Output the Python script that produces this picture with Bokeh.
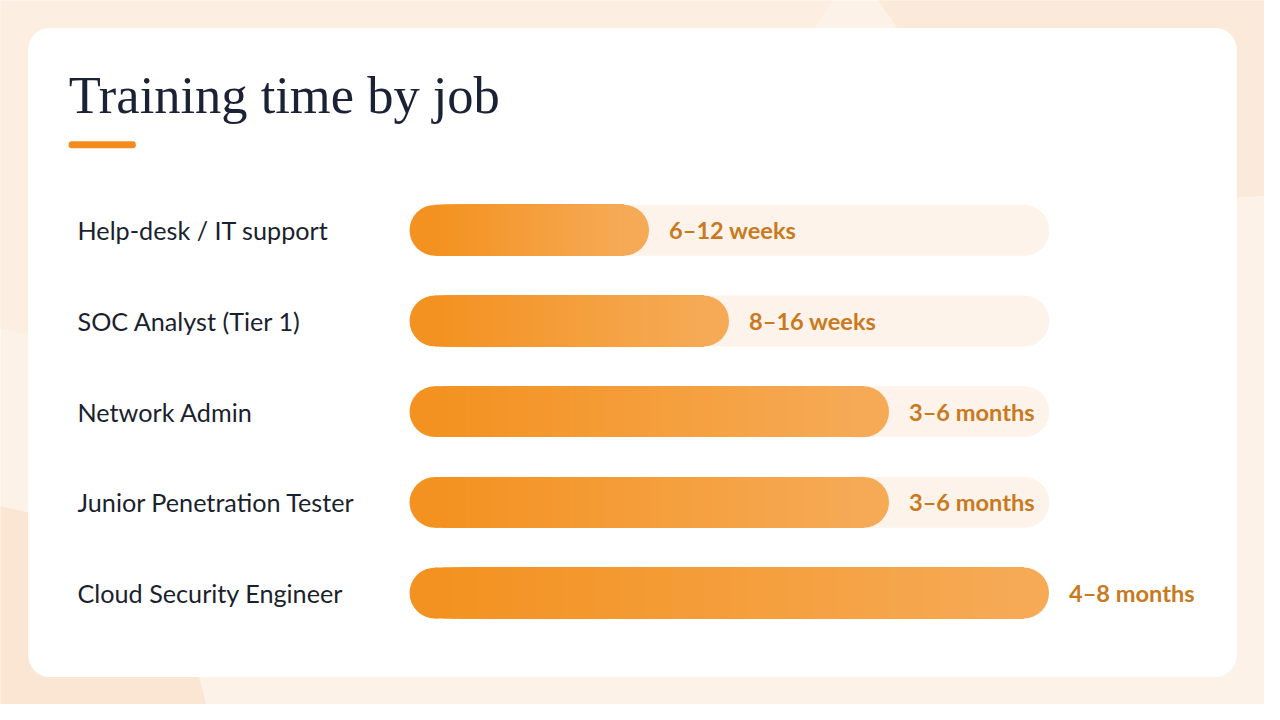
from bokeh.plotting import figure
from bokeh.models import Range1d
from bokeh.core.properties import value
from bokeh.embed import file_html
from bokeh.resources import INLINE

# ---- data ----
jobs = ["Help-desk / IT support", "SOC Analyst (Tier 1)", "Network Admin",
        "Junior Penetration Tester", "Cloud Security Engineer"]
range_labels = ["6\u201312 weeks", "8\u201316 weeks", "3\u20136 months", "3\u20136 months", "4\u20138 months"]
upper_months = [3, 4, 6, 6, 8]
max_months = 8
title_text = "Training time by job"

# ---- style ----
BG = "#FDF2E8"
CARD = "#FFFFFF"
TRACK = "#FDF3EA"
C0 = (243, 146, 32)
C1 = (246, 170, 86)
VAL_COL = "#C97A20"
LABEL_COL = "#1B1F2E"
TITLE_COL = "#1B2236"

# reference frame 1280x720 drawn into the 1264x704 canvas
RW, RH = 1280, 720
W, H = 1264, 704
sy = H / RH
p = figure(width=W, height=H, output_backend="svg", toolbar_location=None,
           x_range=Range1d(0, RW), y_range=Range1d(RH, 0),
           min_border=0, outline_line_color=None)
p.background_fill_color = BG
p.border_fill_color = BG
p.xaxis.visible = False
p.yaxis.visible = False
p.grid.visible = False

# value scale: 0 months -> ref px 414, 8 months -> ref px 1062
px0, px1 = 414, 1062
ppm = (px1 - px0) / max_months
p.extra_x_ranges = {"m": Range1d((0 - px0) / ppm, (RW - px0) / ppm)}
# row scale
row0, step = 235, 92.75
p.extra_y_ranges = {"r": Range1d((RH - row0) / step, (0 - row0) / step)}

# background blobs
p.circle(x=[200], y=[-400], radius=755, fill_color="#FCEEE1", line_color=None)
p.circle(x=[1250], y=[-230], radius=427, fill_color="#FBEADA", line_color=None)
p.circle(x=[-40], y=[770], radius=253, fill_color="#FBE6D3", line_color=None)

# card
p.quad(left=[28], right=[1252], top=[28], bottom=[692], fill_color=CARD,
       line_color=None, border_radius=22)

# title + accent
p.text(x=[69], y=[97], text=[title_text], text_font=value("Liberation Serif"),
       text_font_size=value("52.5px"), text_color=TITLE_COL, text_baseline="middle")
p.quad(left=[69], right=[137], top=[144], bottom=[151], fill_color="#F28C1E",
       line_color=None, border_radius=3)

rows = list(range(len(jobs)))
bh = 52 / step
r_m = 26 / ppm
rad_px = 26 * sy

# labels
p.text(x=[78] * len(jobs), y=rows, y_range_name="r", text=jobs,
       text_font=value("Lato"), text_font_size=value("25.2px"), text_color=LABEL_COL,
       text_baseline="middle")

# tracks
p.hbar(y=rows, left=[0] * len(rows), right=[max_months] * len(rows), height=bh,
       x_range_name="m", y_range_name="r", fill_color=TRACK, line_color=None,
       border_radius=25)

# gradient bars: left/right caps + overlapping slices (each slice runs to the bar end)
N = 70
for i, v in enumerate(upper_months):
    a, b = r_m, v - r_m
    lefts, rights, cols = [], [], []
    for k in range(N):
        t = k / (N - 1)
        lefts.append(a + (b - a) * k / N)
        rights.append(b)
        c = tuple(int(round(C0[j] + (C1[j] - C0[j]) * t)) for j in range(3))
        cols.append("#%02x%02x%02x" % c)
    p.circle(x=[a, b], y=[i, i], radius=rad_px, radius_units="screen",
             x_range_name="m", y_range_name="r",
             fill_color=[cols[0], cols[-1]], line_color=None)
    p.hbar(y=[i] * N, left=lefts, right=rights, height=bh, x_range_name="m",
           y_range_name="r", fill_color=cols, line_color=None)

# value labels
p.text(x=[v + 20 / ppm for v in upper_months], y=rows, x_range_name="m", y_range_name="r",
       text=range_labels, text_font=value("Lato"), text_font_size=value("23.6px"),
       text_font_style="bold", text_color=VAL_COL, text_baseline="middle")

open("out.html", "w").write(file_html(p, INLINE))
